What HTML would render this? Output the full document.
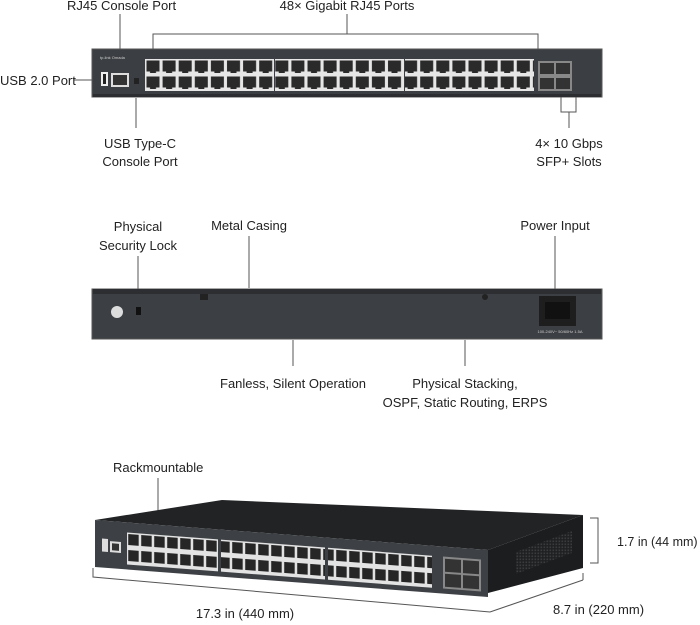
<!DOCTYPE html>
<html><head><meta charset="utf-8"><style>
html,body{margin:0;padding:0;background:#fff;}
svg{display:block;font-family:"Liberation Sans",sans-serif;}
text{font-size:13px;fill:#222;font-weight:300;}
</style></head><body>
<svg width="700" height="625" viewBox="0 0 700 625" xmlns="http://www.w3.org/2000/svg">
<defs>
<pattern id="p1" x="145" y="59" width="16.1" height="16" patternUnits="userSpaceOnUse">
<rect x="0" y="0" width="16.1" height="16" fill="#e6e6e6"/>
<rect x="1.5" y="1.5" width="13" height="11" fill="#2a2a2a"/>
<rect x="5" y="12" width="6" height="2" fill="#2a2a2a"/>
</pattern>
<pattern id="p2" x="127" y="530" width="13" height="16" patternUnits="userSpaceOnUse">
<rect x="0" y="0" width="13" height="16" fill="#e3e3e3"/>
<rect x="1.2" y="1.5" width="10.5" height="11" fill="#262626"/>
</pattern>
<pattern id="vent" x="0" y="0" width="3" height="3" patternUnits="userSpaceOnUse">
<rect width="3" height="3" fill="#1f2022"/>
<rect x="0.5" y="0.5" width="1.6" height="1.6" fill="#3a3c3f"/>
</pattern>
</defs>

<!-- Top labels -->
<text x="67" y="10">RJ45 Console Port</text>
<text x="347" y="10" text-anchor="middle">48× Gigabit RJ45 Ports</text>
<g stroke="#555" stroke-width="1" fill="none">
<line x1="120" y1="14" x2="120" y2="68"/>
<line x1="347" y1="14" x2="347" y2="34"/>
<polyline points="153,52 153,34 538,34 538,52"/>
<line x1="74" y1="80" x2="100" y2="80"/>
<line x1="136" y1="98" x2="136" y2="128"/>
<polyline points="561,92 561,112 576,112 576,92"/>
<line x1="569" y1="112" x2="569" y2="128"/>
</g>
<text x="0" y="85">USB 2.0 Port</text>
<text x="140" y="148" text-anchor="middle">USB Type-C</text>
<text x="140" y="166" text-anchor="middle">Console Port</text>
<text x="569" y="148" text-anchor="middle">4× 10 Gbps</text>
<text x="569" y="166" text-anchor="middle">SFP+ Slots</text>

<!-- Top switch -->
<rect x="92" y="49" width="510" height="48" fill="#3b3e42" stroke="#555" />
<rect x="93" y="94" width="508" height="3" fill="#2b2d30"/>
<text x="100" y="59" style="font-size:4px;fill:#ccc">tp-link Omada</text>
<rect x="101" y="72" width="7" height="14" fill="#eee"/><rect x="103" y="74" width="3" height="10" fill="#222"/>
<rect x="111" y="73" width="18" height="14" fill="#ddd"/><rect x="113" y="75" width="14" height="10" fill="#333"/>
<rect x="134" y="78" width="5" height="6" fill="#222"/>
<rect x="145" y="59" width="129" height="32" fill="url(#p1)"/>
<rect x="275" y="59" width="129" height="32" fill="url(#p1)"/>
<rect x="405" y="59" width="129" height="32" fill="url(#p1)"/>
<rect x="538" y="61" width="34" height="30" fill="#888"/>
<rect x="540" y="63" width="14" height="11" fill="#333"/><rect x="556" y="63" width="14" height="11" fill="#333"/>
<rect x="540" y="78" width="14" height="11" fill="#333"/><rect x="556" y="78" width="14" height="11" fill="#333"/>

<!-- Middle labels -->
<text x="138" y="231" text-anchor="middle">Physical</text>
<text x="138" y="250" text-anchor="middle">Security Lock</text>
<text x="249" y="230" text-anchor="middle">Metal Casing</text>
<text x="555" y="230" text-anchor="middle">Power Input</text>
<g stroke="#555" fill="none">
<line x1="138" y1="256" x2="138" y2="306"/>
<line x1="249" y1="236" x2="249" y2="288"/>
<line x1="555" y1="236" x2="555" y2="296"/>
<line x1="293" y1="340" x2="293" y2="366"/>
<line x1="465" y1="340" x2="465" y2="366"/>
</g>
<text x="293" y="388" text-anchor="middle">Fanless, Silent Operation</text>
<text x="465" y="388" text-anchor="middle">Physical Stacking,</text>
<text x="465" y="407" text-anchor="middle">OSPF, Static Routing, ERPS</text>

<!-- Back panel -->
<rect x="92" y="289" width="510" height="50" fill="#3c3f43" stroke="#555"/>
<rect x="93" y="289" width="508" height="5" fill="#2c2e31"/>
<circle cx="117" cy="312" r="6" fill="#ddd"/>
<rect x="136" y="307" width="5" height="8" fill="#111"/>
<rect x="200" y="294" width="8" height="6" fill="#222"/>
<circle cx="485" cy="297" r="3" fill="#222"/>
<rect x="539" y="296" width="37" height="30" fill="#1e1e1e"/>
<rect x="545" y="302" width="25" height="17" fill="#111"/>
<text x="560" y="333" text-anchor="middle" style="font-size:4px;fill:#ccc">100-240V~ 50/60Hz 1.5A</text>

<!-- Bottom -->
<text x="113" y="472">Rackmountable</text>
<line x1="158" y1="478" x2="158" y2="517" stroke="#555"/>
<!-- top surface -->
<polygon points="95,520 222,500 583,515 488,550" fill="#222325"/>
<!-- right side -->
<polygon points="488,550 583,515 583,568 488,593" fill="#1c1d1f"/>
<polygon points="516,552 572,531 572,553 516,574" fill="url(#vent)"/>
<!-- front face -->
<g transform="matrix(1,0.0763,0,1,0,-7.25)">
<rect x="95" y="520" width="393" height="47" fill="#3d4044"/>
<rect x="102" y="538" width="6" height="13" fill="#ddd"/>
<rect x="110" y="540" width="11" height="11" fill="#ddd"/><rect x="112" y="542" width="7" height="7" fill="#333"/>
<rect x="127" y="530" width="91" height="32" fill="url(#p2)"/>
<rect x="221" y="530" width="104" height="32" fill="url(#p2)"/>
<rect x="328" y="530" width="104" height="32" fill="url(#p2)"/>
<rect x="443" y="530" width="38" height="32" fill="#888"/>
<rect x="445" y="532" width="16" height="13" fill="#333"/><rect x="463" y="532" width="16" height="13" fill="#333"/>
<rect x="445" y="547" width="16" height="13" fill="#333"/><rect x="463" y="547" width="16" height="13" fill="#333"/>
</g>
<g stroke="#555" fill="none">
<polyline points="590,518 598,518 598,563 590,563"/>
<polyline points="93,568 93,577 490,612"/>
<line x1="490" y1="612" x2="583" y2="580"/>
<line x1="583" y1="580" x2="583" y2="573"/>
</g>
<text x="617" y="546" style="font-size:12.5px">1.7 in (44 mm)</text>
<text x="245" y="618" text-anchor="middle">17.3 in (440 mm)</text>
<text x="553" y="614">8.7  in (220 mm)</text>
</svg>
</body></html>
